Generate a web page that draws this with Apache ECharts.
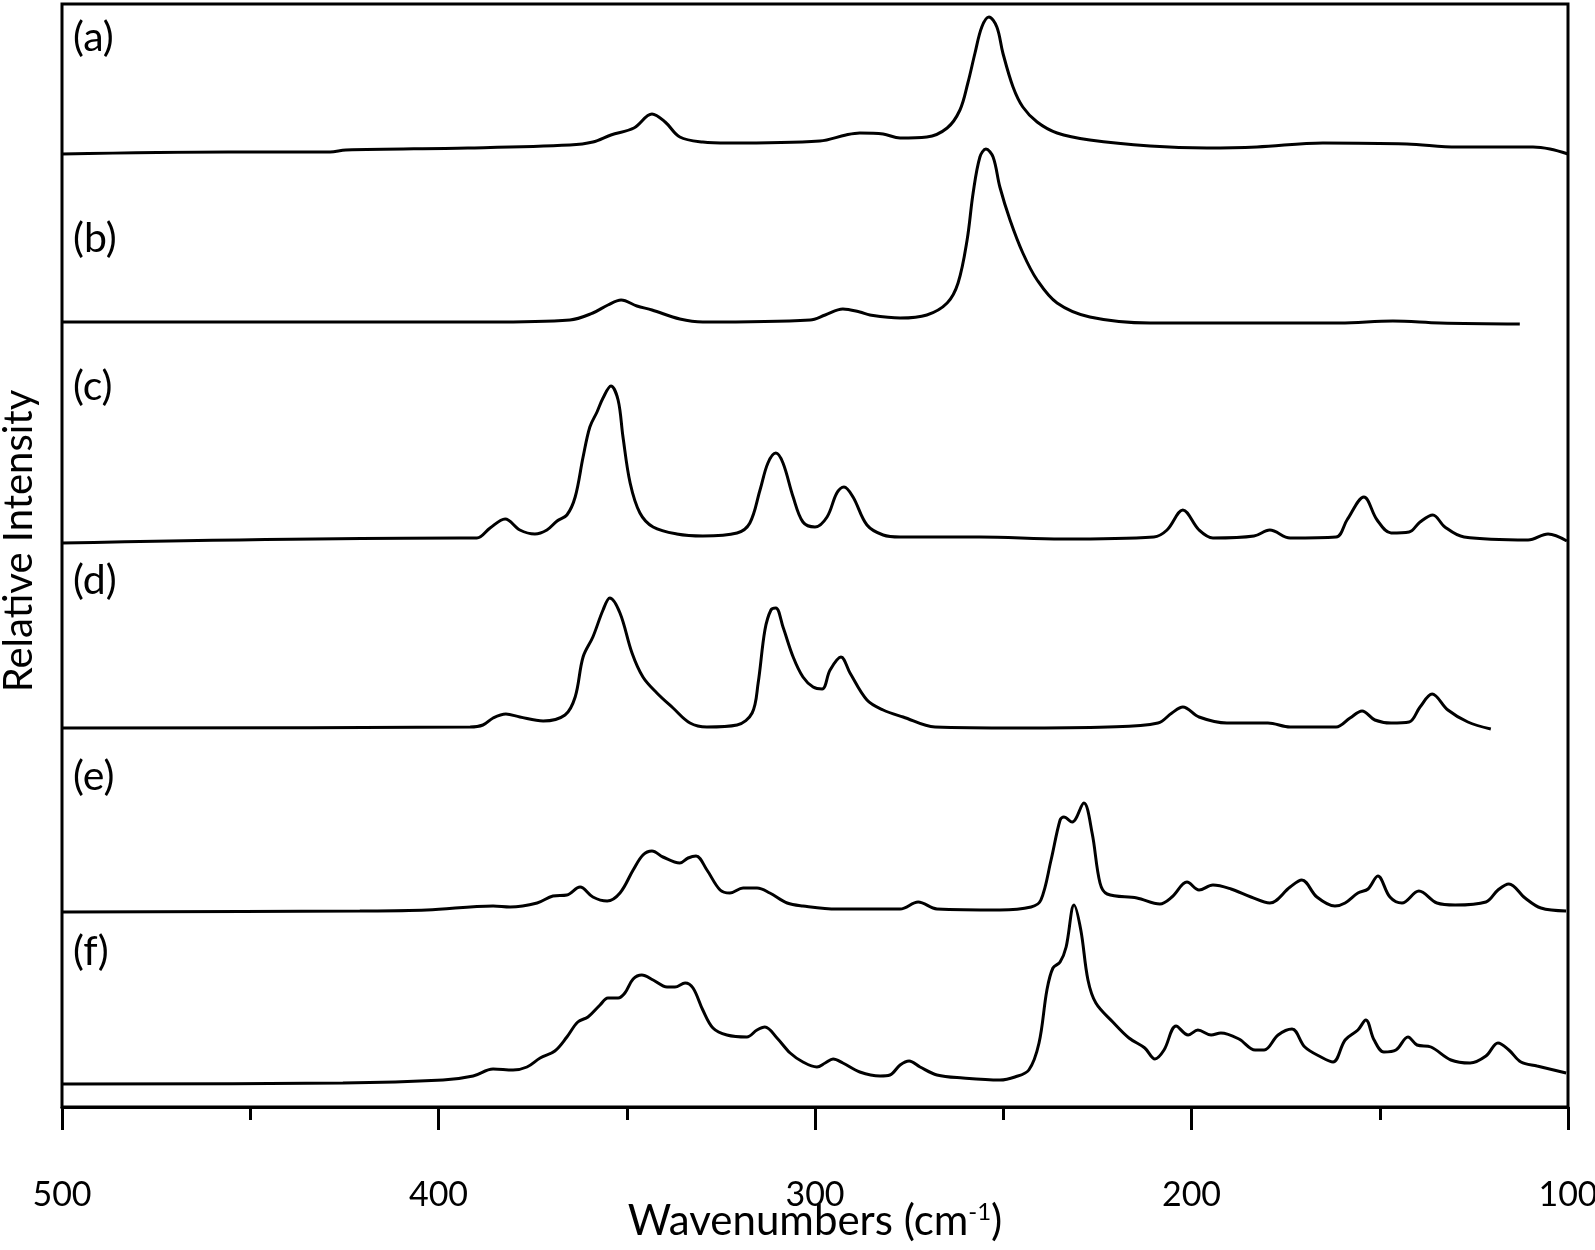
<!DOCTYPE html>
<html>
<head>
<meta charset="utf-8">
<title>Raman spectra</title>
<script src="https://cdn.jsdelivr.net/npm/echarts@6/dist/echarts.min.js"></script>
<style>
    html, body {
        margin: 0;
        padding: 0;
        background: #fff;
    }
    #chart {
        width: 1595px;
        height: 1250px;
    }
</style>
</head>
<body>
<div id="chart"></div>
<script>
// [wavenumber, offset intensity]
const specA = [[500, 953], [455.9, 955], [428.8, 955], [424.6, 957], [392.2, 959], [365.1, 962], [359.0, 965], [354.2, 972], [348.1, 979], [343.3, 993], [339.8, 985], [335.9, 970], [329.8, 965], [323.1, 964], [298.7, 966], [291.8, 972], [288.1, 974], [281.9, 973], [277.4, 969], [270.3, 970], [264.9, 979], [261.5, 997], [259.4, 1024], [257.5, 1054], [255.7, 1080], [253.8, 1090], [251.7, 1080], [250.1, 1054], [247.4, 1020], [244.8, 1000], [241.0, 985], [235.7, 974], [227.0, 967], [211.0, 961], [195.9, 959], [182.6, 960], [165.1, 964], [142.8, 963], [129.5, 960], [109.3, 960], [104.8, 958], [100, 953]]
const specB = [[500, 785], [386.9, 785], [365.1, 787], [359.0, 794], [355.0, 802], [351.5, 807], [347.3, 801], [343.3, 797], [335.9, 788], [329.8, 785], [301.3, 787], [297.3, 792], [292.6, 798], [288.1, 795], [285.4, 792], [277.4, 789], [270.3, 792], [264.9, 804], [262.0, 824], [259.6, 867], [258.0, 914], [256.2, 950], [254.6, 958], [252.7, 950], [250.9, 920], [248.2, 887], [244.8, 854], [241.0, 827], [235.7, 804], [227.0, 790], [211.0, 784], [160.6, 784], [146.5, 786], [134.0, 784], [112.8, 783]]
const specC = [[500, 564], [394.3, 569], [389.8, 569], [386.3, 579], [382.3, 588], [378.4, 577], [374.4, 573], [371.2, 577], [368.5, 586], [365.9, 592], [363.7, 610], [361.6, 650], [359.8, 680], [357.9, 695], [356.3, 709], [354.2, 721], [352.3, 707], [351.0, 670], [349.1, 624], [346.5, 594], [343.0, 580], [336.7, 573], [329.8, 571], [320.7, 574], [317.3, 584], [314.6, 617], [312.5, 644], [310.4, 654], [308.5, 644], [305.8, 610], [303.2, 585], [300.0, 580], [296.8, 590], [294.2, 614], [292.3, 620], [289.9, 610], [286.2, 582], [281.9, 572], [277.4, 570], [256.2, 570], [234.4, 568], [210.0, 570], [206.5, 577], [202.3, 597], [198.0, 577], [194.3, 569], [183.4, 571], [179.2, 577], [173.8, 569], [161.6, 570], [158.7, 587], [154.2, 610], [150.7, 587], [147.0, 574], [142.2, 575], [139.3, 585], [135.9, 592], [132.7, 580], [127.6, 570], [110.6, 567], [105.3, 573], [100.3, 566]]
const specD = [[500, 379], [391.6, 380], [388.2, 382], [385.5, 389], [382.1, 393], [378.4, 390], [372.2, 386], [366.4, 392], [363.7, 410], [361.6, 450], [359.0, 470], [356.3, 497], [354.5, 509], [351.8, 494], [348.6, 454], [345.7, 430], [342.0, 414], [337.7, 399], [333.2, 384], [328.7, 380], [320.7, 382], [316.7, 394], [315.1, 424], [313.3, 477], [311.7, 497], [310.4, 499], [308.5, 480], [305.8, 450], [303.2, 430], [300.5, 420], [298.1, 418], [296.0, 437], [293.1, 450], [290.7, 434], [286.2, 407], [281.9, 397], [276.6, 390], [268.1, 380], [246.4, 379], [222.2, 380], [208.9, 384], [205.2, 394], [202.3, 400], [198.0, 390], [190.6, 384], [179.7, 384], [173.8, 380], [161.6, 380], [157.9, 389], [154.7, 396], [151.3, 387], [147.0, 384], [142.2, 385], [139.3, 400], [136.1, 413], [131.9, 397], [126.6, 385], [120.5, 378]]
const specE = [[500, 195], [420.9, 196], [403.1, 197], [385.5, 201], [381.0, 200], [373.8, 204], [369.6, 211], [365.9, 212], [362.4, 220], [359.0, 210], [355.2, 206], [351.8, 214], [348.3, 237], [345.7, 252], [343.3, 256], [340.4, 250], [335.9, 244], [333.7, 249], [331.6, 251], [328.7, 237], [325.2, 217], [322.6, 214], [319.1, 219], [315.4, 219], [312.0, 214], [307.4, 204], [303.2, 201], [294.2, 198], [277.4, 198], [272.6, 205], [267.6, 198], [250.9, 197], [242.6, 200], [240.0, 207], [237.3, 247], [234.9, 287], [233.9, 290], [231.7, 285], [228.6, 304], [226.4, 274], [224.3, 224], [222.4, 213], [214.5, 209], [208.4, 203], [205.2, 210], [201.2, 225], [198.0, 217], [194.3, 222], [189.5, 218], [184.2, 210], [179.2, 204], [173.8, 220], [170.7, 227], [166.7, 210], [161.9, 201], [159.2, 204], [155.8, 214], [153.1, 218], [150.5, 231], [147.3, 210], [144.1, 204], [139.6, 216], [134.8, 204], [130.0, 202], [121.8, 205], [118.6, 217], [115.7, 223], [111.4, 209], [107.2, 199], [100.5, 196]]
const specF = [[500, 23], [425.4, 24], [398.8, 27], [390.8, 31], [385.5, 38], [380.2, 37], [376.5, 40], [373.0, 49], [369.1, 56], [365.9, 70], [363.0, 85], [360.3, 90], [357.1, 102], [355.0, 109], [352.3, 109], [350.5, 114], [348.3, 128], [346.0, 132], [343.0, 127], [339.3, 120], [337.2, 120], [334.5, 124], [332.4, 119], [329.8, 97], [327.1, 79], [323.4, 72], [318.1, 70], [315.4, 77], [313.3, 80], [310.1, 69], [306.6, 54], [303.2, 45], [299.5, 40], [297.3, 44], [295.2, 48], [292.6, 44], [288.1, 35], [282.7, 31], [280.1, 32], [277.4, 42], [275.0, 46], [272.1, 40], [267.6, 32], [260.7, 29], [250.9, 27], [246.9, 30], [243.2, 37], [240.5, 64], [238.4, 117], [236.8, 139], [234.9, 145], [233.3, 160], [231.2, 202], [229.4, 177], [227.5, 127], [225.4, 104], [220.9, 85], [216.6, 69], [212.4, 59], [209.7, 48], [207.3, 57], [204.1, 81], [200.9, 72], [198.3, 77], [194.8, 72], [192.2, 74], [187.4, 68], [183.1, 57], [180.7, 57], [177.0, 72], [173.3, 78], [169.9, 60], [165.6, 50], [162.4, 45], [159.2, 67], [155.8, 77], [153.7, 87], [151.5, 67], [148.9, 55], [145.7, 57], [142.5, 70], [140.1, 62], [136.4, 60], [131.1, 47], [126.0, 44], [121.8, 51], [118.6, 64], [115.7, 57], [112.5, 45], [108.2, 41], [100.5, 34]]

const spectra = [specA, specB, specC, specD, specE, specF]
const panelNames = ['(a)', '(b)', '(c)', '(d)', '(e)', '(f)']
const panelTops = [17, 218, 366, 560, 756, 931]

let myChart = echarts.init(document.getElementById('chart'))

let series = spectra.map(function (d, i) {
    return {
        name: panelNames[i],
        type: 'line',
        data: d,
        smooth: 0.35,
        showSymbol: false,
        lineStyle: {
            color: '#000',
            width: 3
        }
    }
})

let labels = panelNames.map(function (t, i) {
    return {
        type: 'text',
        left: 73,
        top: panelTops[i],
        style: {
            text: t,
            fill: '#000',
            font: '41px Lato'
        }
    }
})

// axis titles drawn by hand so they sit where the original has them
labels.push({
    type: 'text',
    x: 19,
    y: 541,
    rotation: Math.PI / 2,
    style: {
        text: 'Relative Intensity',
        fill: '#000',
        font: '40px Lato',
        align: 'center',
        verticalAlign: 'middle',
        textAlign: 'center',
        textVerticalAlign: 'middle'
    }
})
labels.push({
    type: 'text',
    x: 815,
    y: 1221,
    style: {
        text: '{a|Wavenumbers (cm}{s|-1}{a|)}',
        align: 'center',
        verticalAlign: 'middle',
        textAlign: 'center',
        textVerticalAlign: 'middle',
        rich: {
            a: {
                fontFamily: 'Lato',
                fontSize: 42,
                fill: '#000',
                lineHeight: 42
            },
            s: {
                fontFamily: 'Lato',
                fontSize: 24,
                fill: '#000',
                verticalAlign: 'top',
                lineHeight: 42
            }
        }
    }
})

myChart.setOption({
    animation: false,
    backgroundColor: '#fff',
    grid: {
        left: 62,
        right: 27,
        top: 4,
        bottom: 143,
        outerBoundsMode: 'none',
        show: true,
        borderColor: '#000',
        borderWidth: 3
    },
    xAxis: {
        type: 'value',
        min: 100,
        max: 500,
        interval: 100,
        inverse: true,
        axisLine: {
            lineStyle: {
                color: '#000',
                width: 3
            }
        },
        axisTick: {
            length: 23,
            lineStyle: {
                color: '#000',
                width: 3
            }
        },
        minorTick: {
            show: true,
            splitNumber: 2,
            length: 13,
            lineStyle: {
                color: '#000',
                width: 3
            }
        },
        axisLabel: {
            margin: 71,
            color: '#000',
            fontFamily: 'Lato',
            fontSize: 34
        },
        splitLine: {
            show: false
        }
    },
    yAxis: {
        type: 'value',
        min: 0,
        max: 1103,
        axisLine: {
            show: false
        },
        axisTick: {
            show: false
        },
        axisLabel: {
            show: false
        },
        splitLine: {
            show: false
        }
    },
    graphic: labels,
    series: series
})
</script>
</body>
</html>
